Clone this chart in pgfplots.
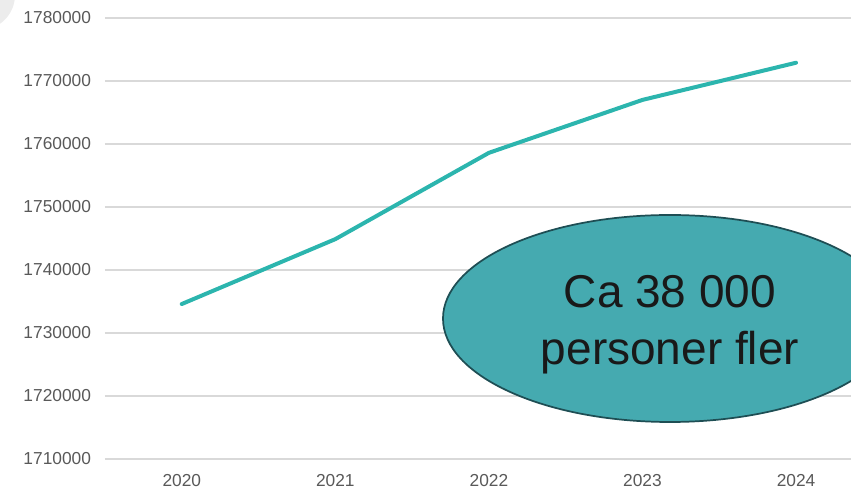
\documentclass[border=0pt]{standalone}
\usepackage{fontspec}
\setmainfont{Liberation Sans}
\usepackage{pgfplots}
\pgfplotsset{compat=1.18}
\definecolor{linecol}{HTML}{2CB5AE}
\definecolor{ellfill}{HTML}{45AAB0}
\definecolor{elldraw}{HTML}{1E4E54}
\definecolor{gridcol}{HTML}{D9D9D9}
\definecolor{labcol}{HTML}{595959}
\begin{document}
\begin{tikzpicture}
\useasboundingbox (0pt,0pt) rectangle (638.25pt,366.75pt);
\clip (0pt,0pt) rectangle (638.25pt,366.75pt);
\fill[gray!15] (-15pt,370.5pt) circle (26.25pt);
\begin{axis}[
  at={(78.75pt,22.5pt)}, anchor=south west,
  scale only axis, width=559.5pt, height=330.75pt,
  xmin=-0.5, xmax=4.358, ymin=1710000, ymax=1780000,
  xtick={0,1,2,3,4}, xticklabels={2020,2021,2022,2023,2024},
  ytick={1710000,1720000,1730000,1740000,1750000,1760000,1770000,1780000},
  scaled y ticks=false,
  /pgf/number format/assume math mode=true,
  /pgf/number format/fixed,
  /pgf/number format/1000 sep={},
  ticklabel style={font=\fontsize{13}{15}\selectfont, text=labcol},
  yticklabel style={xshift=-7pt},
  xticklabel style={yshift=-8pt},
  axis line style={draw=none},
  major tick length=0pt,
  ymajorgrids, grid style={gridcol, line width=1pt},
  clip=false,
]
\addplot[linecol, line width=3pt, line cap=round, line join=round] coordinates {
  (0,1734600) (1,1744900) (2,1758600) (3,1767000) (4,1772900)
};
\end{axis}
\draw[fill=ellfill, draw=elldraw, line width=1.3pt] (502.5pt,127.875pt) ellipse [x radius=170.25pt, y radius=77.625pt];
\node[align=center, font=\fontsize{34.5}{43}\selectfont, text=black!90] at (502.5pt,123pt) {Ca 38 000\\personer fler};
\end{tikzpicture}
\end{document}
